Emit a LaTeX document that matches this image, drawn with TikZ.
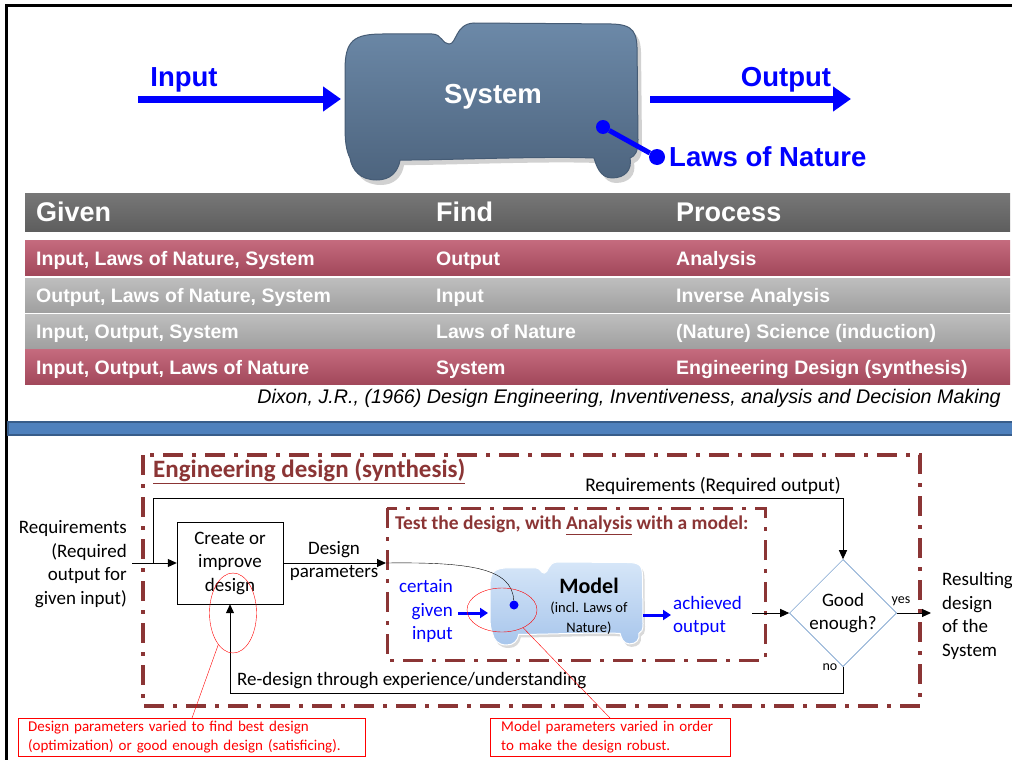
\documentclass[tikz,border=0pt]{standalone}
\usepackage{fontspec}
\setmainfont{Carlito}
\newfontfamily\arialfont{Liberation Sans}
\usetikzlibrary{arrows.meta,shapes.geometric,positioning}

\definecolor{sysbluetop}{HTML}{6C89A8}
\definecolor{sysbluebot}{HTML}{4D647E}
\definecolor{sysedge}{HTML}{465C75}
\definecolor{modeltop}{HTML}{D6E6F8}
\definecolor{modelbot}{HTML}{A8C6EC}
\definecolor{headgray}{HTML}{5E5E5E}
\definecolor{headgraytop}{HTML}{777777}
\definecolor{rowred}{HTML}{A2475A}
\definecolor{rowredtop}{HTML}{C46B7E}
\definecolor{rowgray}{HTML}{A0A0A0}
\definecolor{rowgraytop}{HTML}{BEBEBE}
\definecolor{framered}{HTML}{8B3535}
\definecolor{barblue}{HTML}{4F81BD}
\definecolor{bardark}{HTML}{385D8A}
\definecolor{diablue}{HTML}{4F81BD}

% outline of the system / model blob, drawn in a unit box
\newcommand{\blobpath}{(0,0.300) .. controls (0,0.110) and (0.030,0.070) .. (0.130,0.070)
  -- (0.297,0.070) .. controls (0.331,0.070) and (0.331,0.134) .. (0.355,0.134)
  .. controls (0.382,0.134) and (0.375,0.006) .. (0.440,0)
  -- (0.900,0.006) .. controls (0.990,0.006) and (0.997,0.060) .. (0.997,0.200)
  -- (1,0.745) .. controls (1,0.822) and (0.990,0.847) .. (0.973,0.860)
  .. controls (0.980,0.936) and (0.956,0.987) .. (0.911,0.987)
  .. controls (0.870,0.987) and (0.857,0.904) .. (0.850,0.860)
  .. controls (0.666,0.847) and (0.358,0.873) .. (0.188,0.873)
  .. controls (0.181,0.949) and (0.154,1) .. (0.109,1)
  .. controls (0.051,1) and (0.024,0.936) .. (0.017,0.860)
  .. controls (0.003,0.809) and (0,0.745) .. (0,0.650) -- cycle}

\begin{document}
\begin{tikzpicture}[x=1pt, y=-1pt,
  toplabel/.style={font=\arialfont\bfseries\fontsize{27.5}{32}\selectfont, text=blue, inner sep=0pt},
  bigarrow/.style={blue, line width=7pt, -{Triangle[length=18pt,width=24pt]}},
  dot/.style={circle, fill=blue, inner sep=0pt, minimum size=#1},
  rowbar/.style={minimum width=985pt, inner sep=0pt, anchor=west},
  headtext/.style={font=\arialfont\bfseries\fontsize{27}{32}\selectfont, text=white, anchor=west, inner sep=0pt, text height=19pt, text depth=0pt},
  rowtext/.style={font=\arialfont\bfseries\fontsize{19.5}{24}\selectfont, text=white, anchor=west, inner sep=0pt, text height=14pt, text depth=0pt},
  body/.style={font=\fontsize{19}{23.5}\selectfont, inner sep=0pt},
  bluetext/.style={body, text=blue},
  flow/.style={black, line width=1pt, -{Triangle[length=9pt,width=8pt]}},
  smallblue/.style={blue, line width=3pt, -{Triangle[length=8pt,width=10pt]}},
  dashdot/.style={framered, dash pattern=on 20pt off 9pt on 4pt off 9pt},
  notebox/.style={draw=red, text=red, font=\fontsize{15}{18.5}\selectfont, align=left, anchor=north west, minimum height=37pt},
  redoval/.style={draw=red, ellipse, inner sep=0pt}]
\useasboundingbox (0,0) rectangle (1012,760);

% frame and separator
\draw[line width=3pt] (6.5,762) -- (6.5,6) -- (1014,6);
\draw[fill=barblue, draw=bardark, line width=1.5pt] (8,422) rectangle (1014,435);

% system with input / output
\fill[black, opacity=.18, shift={(349,28)}, xscale=293, yscale=157] \blobpath;
\shade[top color=sysbluetop, bottom color=sysbluebot, draw=sysedge, line width=1pt,
  shift={(345,23)}, xscale=293, yscale=157] \blobpath;
\node[font=\arialfont\bfseries\fontsize{27.5}{32}\selectfont, text=white] (system) at (493,97) {System};
\coordinate (in-start) at (138,99);
\coordinate (sys-in) at (341,99);
\coordinate (sys-out) at (650,99);
\coordinate (out-end) at (851,99);
\draw[bigarrow] (in-start) -- (sys-in);
\draw[bigarrow] (sys-out) -- (out-end);
\node[toplabel] (input) at (184,80) {Input};
\node[toplabel] (output) at (786,80) {Output};
\node[dot=14pt] (laws-in) at (603,127) {};
\node[dot=16pt] (laws-out) at (657,157) {};
\draw[blue, line width=5pt] (laws-in) -- (laws-out);
\node[toplabel, anchor=west] (laws) at (669,157) {Laws of Nature};

% table
\node[rowbar, top color=headgraytop, bottom color=headgray, minimum height=38pt] (head) at (25,212) {};
\node[rowbar, top color=rowredtop, bottom color=rowred, minimum height=35pt] (row1) at (25,258) {};
\node[rowbar, top color=rowgraytop, bottom color=rowgray, minimum height=34pt] (row2) at (25,295) {};
\node[rowbar, top color=rowgraytop, bottom color=rowgray, minimum height=34pt] (row3) at (25,331) {};
\node[rowbar, top color=rowredtop, bottom color=rowred, minimum height=35pt] (row4) at (25,367) {};
\node[headtext] (given) at (36,212) {Given};
\node[headtext] (find) at (436,212) {Find};
\node[headtext] (process) at (676,212) {Process};
\node[rowtext] (g1) at (36,258) {Input, Laws of Nature, System};
\node[rowtext] (f1) at (436,258) {Output};
\node[rowtext] (p1) at (676,258) {Analysis};
\node[rowtext] (g2) at (36,295) {Output, Laws of Nature, System};
\node[rowtext] (f2) at (436,295) {Input};
\node[rowtext] (p2) at (676,295) {Inverse Analysis};
\node[rowtext] (g3) at (36,331) {Input, Output, System};
\node[rowtext] (f3) at (436,331) {Laws of Nature};
\node[rowtext] (p3) at (676,331) {(Nature) Science (induction)};
\node[rowtext] (g4) at (36,367) {Input, Output, Laws of Nature};
\node[rowtext] (f4) at (436,367) {System};
\node[rowtext] (p4) at (676,367) {Engineering Design (synthesis)};
\node[anchor=east, inner sep=0pt, font=\arialfont\itshape\fontsize{19.7}{23}\selectfont] (dixon) at (1001,398)
  {Dixon, J.R., (1966) Design Engineering, Inventiveness, analysis and Decision Making};

% engineering design loop
\draw[dashdot, line width=4.5pt] (143,455) rectangle (920,706);
\draw[dashdot, line width=3pt] (387,508) rectangle (765,660);
\node[anchor=west, inner sep=0pt, text=framered, font=\bfseries\fontsize{25}{30}\selectfont] (title) at (153,471)
  {\underline{Engineering design (synthesis)}};
\node[anchor=west, inner sep=0pt, text=framered, font=\bfseries\fontsize{19.5}{23}\selectfont] (test) at (395,525)
  {Test the design, with \underline{Analysis} with a model:};

\node[body, align=right, anchor=east] (req) at (127,564) {Requirements\\(Required\\output for\\given input)};
\node[body, draw, align=center, minimum width=106pt, minimum height=82pt] (create) at (230,563) {Create or\\improve\\design};
\node[body, align=center] (dparams) at (334,561) {Design\\parameters};

\fill[black, opacity=.15, shift={(492,565)}, xscale=153, yscale=83] \blobpath;
\shade[top color=modeltop, bottom color=modelbot, draw=white, line width=1pt,
  shift={(490,562)}, xscale=153, yscale=83] \blobpath;
\node[font=\bfseries\fontsize{22}{26}\selectfont, inner sep=0pt] (model) at (589,586) {Model};
\node[font=\fontsize{14.5}{20}\selectfont, align=center, inner sep=0pt] (modelsub) at (589,618) {(incl. Laws of\\Nature)};
\node[dot=9pt] (model-dot) at (514,605) {};

\node[bluetext, align=right, anchor=east] (given-in) at (453,611) {certain\\given\\input};
\node[bluetext, align=left, anchor=west] (achieved) at (673,616) {achieved\\output};
\node[body, diamond, draw=diablue, align=center, minimum width=100pt, minimum height=100pt, inner sep=0pt] (good) at (843,613) {Good\\enough?};
\node[body, align=left, anchor=west] (result) at (942,616) {Resulting\\design\\of the\\System};

\coordinate (req-in) at (132,563);
\coordinate (branch) at (153,563);
\coordinate (req-top) at (153,498);
\coordinate (test-in) at (386,563);
\coordinate (given-start) at (458,613);
\coordinate (model-in) at (488,613);
\coordinate (model-out) at (643,615);
\coordinate (ach-start) at (671,615);
\coordinate (ach-end) at (752,613);
\coordinate (result-in) at (931,613);

\draw[flow] (req-in) -- (create.west);
\draw[flow] (branch) -- (req-top) -| (good.north);
\node[font=\fontsize{19.4}{23.5}\selectfont, inner sep=0pt] (reqtext) at (713,486) {Requirements (Required output)};
\draw[flow] (create.east) -- (test-in);
\draw (test-in) .. controls (470,562) and (512,568) .. (model-dot);
\draw[smallblue] (given-start) -- (model-in);
\draw[smallblue] (model-out) -- (ach-start);
\draw[flow] (ach-end) -- (good.west);
\draw[flow] (good.east) -- (result-in);
\node[font=\fontsize{14}{17}\selectfont, inner sep=0pt] (yes) at (901,601) {yes};
\node[font=\fontsize{14}{17}\selectfont, inner sep=0pt] (no) at (830,667) {no};
\draw[flow] (good.south) -- ++(0,27) -| (create.south);
\node[body, anchor=west] (redesign) at (237,681) {Re-design through experience/understanding};

% notes
\node[redoval, minimum width=47pt, minimum height=80pt] (oval-create) at (233,613) {};
\node[redoval, minimum width=70pt, minimum height=44pt] (oval-model) at (502,610) {};
\node[notebox, inner xsep=10pt, text width=327pt] (note-create) at (18,718)
  {Design parameters varied to find best design\\(optimization) or good enough design (satisficing).};
\node[notebox, inner xsep=11pt, text width=218pt] (note-model) at (490,718)
  {Model parameters varied in order\\to make the design robust.};
\coordinate (note-create-tip) at (192,718);
\coordinate (note-model-tip) at (610,718);
\draw[red] (oval-create.245) -- (note-create-tip);
\draw[red] (oval-model.320) -- (note-model-tip);
\end{tikzpicture}
\end{document}
